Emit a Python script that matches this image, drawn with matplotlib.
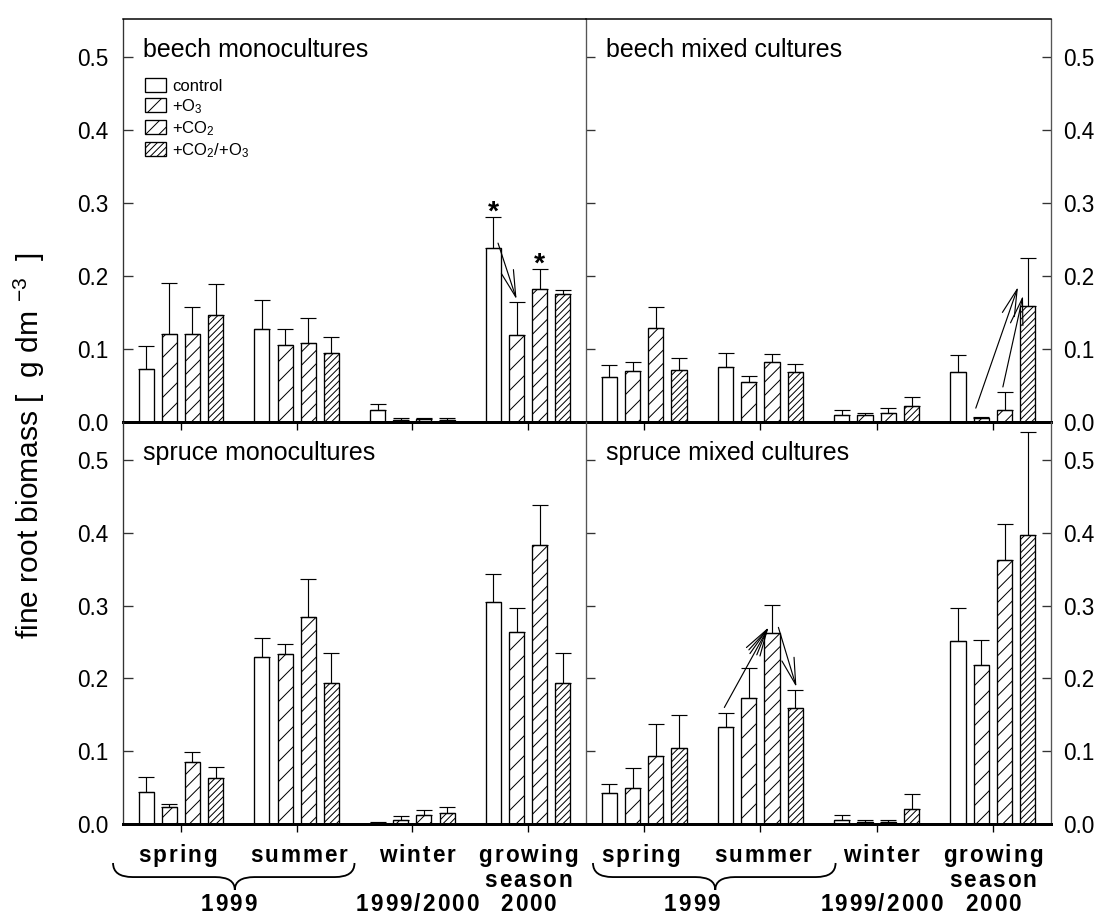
import numpy as np
import matplotlib.pyplot as plt
import matplotlib.transforms as mtransforms
from matplotlib.path import Path
from matplotlib.patches import PathPatch
from matplotlib.font_manager import FontProperties

plt.rcParams['font.family'] = ['Liberation Sans', 'DejaVu Sans']
plt.rcParams['mathtext.fontset'] = 'custom'
plt.rcParams['mathtext.rm'] = 'Liberation Sans'
plt.rcParams['mathtext.it'] = 'Liberation Sans:italic'
plt.rcParams['mathtext.bf'] = 'Liberation Sans:bold'
plt.rcParams['hatch.linewidth'] = 0.6
plt.rcParams['hatch.color'] = 'black'

DPI = 120

# treatments and sampling periods
treatments = ['control', '+O$_3$', '+CO$_2$', '+CO$_2$/+O$_3$']
hatches = ['', '//', '///', '//////']
seasons = ['spring', 'summer', 'winter', 'growing season']

# fine root biomass [g dm-3]; rows = season, columns = treatment
# *_hi = upper end of the error bar
beech_mono = np.array([[0.073, 0.120, 0.120, 0.147],
                       [0.127, 0.105, 0.108, 0.094],
                       [0.016, 0.003, 0.004, 0.003],
                       [0.238, 0.119, 0.182, 0.175]])
beech_mono_hi = np.array([[0.104, 0.191, 0.158, 0.189],
                          [0.167, 0.128, 0.142, 0.116],
                          [0.025, 0.005, 0.006, 0.005],
                          [0.281, 0.164, 0.210, 0.181]])

beech_mix = np.array([[0.062, 0.070, 0.129, 0.071],
                      [0.075, 0.055, 0.082, 0.068],
                      [0.010, 0.009, 0.013, 0.022],
                      [0.068, 0.005, 0.017, 0.159]])
beech_mix_hi = np.array([[0.078, 0.082, 0.158, 0.088],
                         [0.094, 0.063, 0.093, 0.080],
                         [0.016, 0.012, 0.019, 0.034],
                         [0.092, 0.007, 0.041, 0.224]])

spruce_mono = np.array([[0.044, 0.023, 0.085, 0.063],
                        [0.229, 0.233, 0.284, 0.193],
                        [0.002, 0.006, 0.012, 0.015],
                        [0.305, 0.263, 0.383, 0.193]])
spruce_mono_hi = np.array([[0.064, 0.027, 0.099, 0.078],
                           [0.256, 0.247, 0.337, 0.235],
                           [0.003, 0.011, 0.019, 0.023],
                           [0.343, 0.296, 0.438, 0.235]])

spruce_mix = np.array([[0.042, 0.050, 0.094, 0.104],
                       [0.133, 0.173, 0.262, 0.159],
                       [0.005, 0.003, 0.003, 0.021],
                       [0.251, 0.219, 0.362, 0.397]])
spruce_mix_hi = np.array([[0.055, 0.077, 0.137, 0.149],
                          [0.152, 0.214, 0.301, 0.184],
                          [0.012, 0.005, 0.005, 0.041],
                          [0.296, 0.253, 0.412, 0.538]])

panels = [('beech monocultures', beech_mono, beech_mono_hi),
          ('beech mixed cultures', beech_mix, beech_mix_hi),
          ('spruce monocultures', spruce_mono, spruce_mono_hi),
          ('spruce mixed cultures', spruce_mix, spruce_mix_hi)]

# significance arrows: panel, (season, treatment, end, dx, dy) tail -> head
arrows = [(0, (3, 0, 'mean', 0.04, 0.007), (3, 1, 'hi', 0.0, 0.004)),
          (1, (3, 1, 'hi', -0.047, 0.012), (3, 3, 'mean', -0.084, 0.026)),
          (1, (3, 2, 'hi', -0.014, 0.007), (3, 3, 'mean', -0.041, 0.014)),
          (3, (1, 0, 'hi', -0.01, 0.008), (1, 2, 'mean', -0.03, 0.008)),
          (3, (1, 1, 'hi', 0.01, 0.02), (1, 2, 'mean', -0.03, 0.008)),
          (3, (1, 2, 'mean', 0.055, 0.008), (1, 3, 'hi', 0.01, 0.004))]
stars = [(0, 3, 0), (0, 3, 2)]

offsets = np.array([-0.3, -0.1, 0.1, 0.3])
width = 0.13
x = np.arange(len(seasons))

fig = plt.figure(figsize=(1101 / DPI, 914 / DPI), dpi=DPI)
W, H = 1101, 914
boxes = [(123, 19, 586, 422), (586, 19, 1051, 422),
         (123, 422, 586, 824), (586, 422, 1051, 824)]
axes = []
for x0, y0, x1, y1 in boxes:
    ax = fig.add_axes([x0 / W, 1 - y1 / H, (x1 - x0) / W, (y1 - y0) / H])
    ax.patch.set_visible(False)
    axes.append(ax)

for i, (ax, (title, mean, hi)) in enumerate(zip(axes, panels)):
    for t in range(4):
        ax.bar(x + offsets[t], mean[:, t], width, color='white', edgecolor='black',
               hatch=hatches[t], lw=0.8, label=treatments[t], zorder=2)
        ax.errorbar(x + offsets[t], mean[:, t], yerr=[np.zeros(4), hi[:, t] - mean[:, t]],
                    fmt='none', ecolor='black', elinewidth=0.7, capsize=4.8,
                    capthick=0.7, zorder=3)
    ax.set_xlim(-0.5, 3.5)
    ax.set_ylim(0, 0.552)
    ax.set_xticks(x)
    ax.set_yticks(np.arange(0, 0.51, 0.1))
    ax.yaxis.set_major_formatter('{x:.1f}')
    ax.tick_params(axis='x', direction='out', length=5, width=0.8, labelbottom=False)
    ax.text(0.043, 0.906, title, transform=ax.transAxes, fontsize=15, va='baseline')

    right = i % 2 == 1
    top = i < 2
    ax.spines['bottom'].set_linewidth(1.8)
    ax.spines['top'].set_visible(top)
    ax.spines['top'].set_linewidth(0.9)
    if right:
        ax.spines['left'].set_color('#555555')
        ax.spines['right'].set_color('#555555')
        ax.tick_params(axis='y', direction='in', length=5.5, width=0.8, left=True,
                       right=True, labelleft=False, labelright=True, labelsize=13.5,
                       pad=7, colors='#333333', labelcolor='black')
    else:
        ax.spines['right'].set_visible(False)
        ax.spines['left'].set_color('#333333')
        ax.tick_params(axis='y', direction='in', length=6, width=0.8, labelsize=13.5,
                       pad=9, colors='#333333', labelcolor='black')

    for p, tail, head in arrows:
        if p != i:
            continue
        pts = []
        for g, t, end, dx, dy in (tail, head):
            yv = mean[g, t] if end == 'mean' else hi[g, t]
            pts.append((x[g] + offsets[t] + dx, yv + dy))
        ax.annotate('', xy=pts[1], xytext=pts[0],
                    arrowprops=dict(arrowstyle='->,head_length=1.6,head_width=0.38',
                                    lw=0.7, color='black', shrinkA=0, shrinkB=0,
                                    mutation_scale=10), zorder=4)
    for p, g, t in stars:
        if p == i:
            ax.text(x[g] + offsets[t], hi[g, t] - 0.004, '*', fontsize=17,
                    fontweight='bold', ha='center', va='baseline')

axes[0].legend(loc='upper left', bbox_to_anchor=(0.0475, 0.854), frameon=False,
               fontsize=10, handlelength=1.26, handleheight=0.9, labelspacing=0.2,
               handletextpad=0.35, borderpad=0, borderaxespad=0)

fig.text(0.027, 0.512, 'fine root biomass [  g dm $^{-3}$  ]', rotation=90,
         fontsize=18, ha='center', va='center')

# season labels below the lower panels, letter-spaced bold text
bold = FontProperties(family=['Liberation Sans', 'DejaVu Sans'], weight='bold', size=13.5)
renderer = fig.canvas.get_renderer()


def spaced(ax, xc, yc, s, gap=2.0):
    ws = [renderer.get_text_width_height_descent(c, bold, ismath=False)[0] for c in s]
    pos = -(sum(ws) + gap * (len(s) - 1)) / 2
    for c, w in zip(s, ws):
        tr = ax.get_xaxis_transform() + mtransforms.ScaledTranslation(
            pos / DPI, 0, fig.dpi_scale_trans)
        ax.text(xc, yc, c, transform=tr, fontproperties=bold, ha='left',
                va='baseline', clip_on=False)
        pos += w + gap


row1, row2, row3 = -0.0945, -0.157, -0.216
labels = [('spring', -0.03, row1), ('summer', 1.02, row1), ('winter', 2.04, row1),
          ('growing', 3.0, row1), ('season', 3.0, row2), ('1999', 0.41, row3),
          ('1999/2000', 2.04, row3), ('2000', 3.0, row3)]
braces = [(-0.586, 0.466, 1.5), (-0.44, 0.612, 1.647)]

for ax, (b0, bc, b1) in zip(axes[2:], braces):
    for s, xc, yc in labels:
        spaced(ax, xc, yc, s)
    ytop, yflat, ytip = -0.097, -0.132, -0.164
    r = 0.17
    verts = [(b0, ytop), (b0, yflat), (b0 + r, yflat), (bc - r, yflat),
             (bc, yflat), (bc, ytip),
             (bc, ytip), (bc, yflat), (bc + r, yflat), (b1 - r, yflat),
             (b1, yflat), (b1, ytop)]
    codes = [Path.MOVETO, Path.CURVE3, Path.CURVE3, Path.LINETO, Path.CURVE3, Path.CURVE3,
             Path.MOVETO, Path.CURVE3, Path.CURVE3, Path.LINETO, Path.CURVE3, Path.CURVE3]
    ax.add_patch(PathPatch(Path(verts, codes), fill=False, lw=1.1, color='black',
                           transform=ax.get_xaxis_transform(), clip_on=False))

fig.savefig('out.png', dpi=DPI)
